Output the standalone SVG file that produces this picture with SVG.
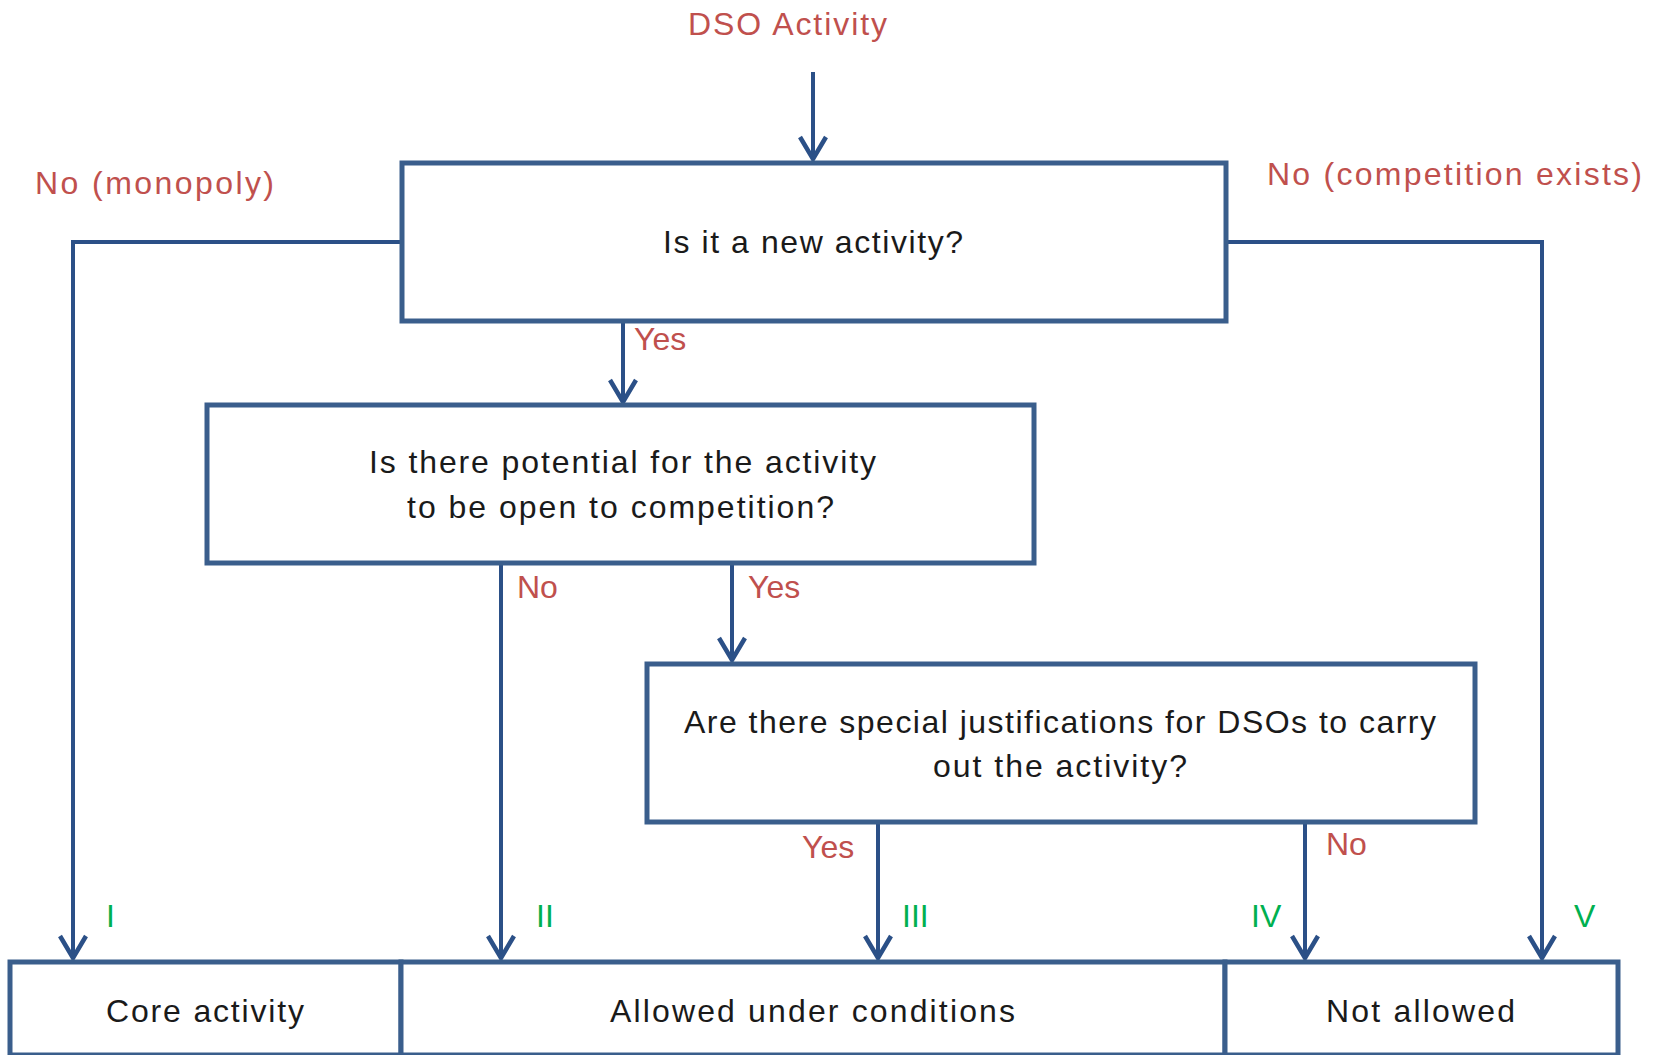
<svg xmlns="http://www.w3.org/2000/svg" width="1655" height="1055" viewBox="0 0 1655 1055">
<style>
.box{fill:#ffffff;stroke:#3A5E8C;stroke-width:5}
.con{fill:none;stroke:#2B5087;stroke-width:4}
text{font-family:"Liberation Sans",Arial,sans-serif;font-size:32px}
.t{fill:#1a1a1a}
.lbl{fill:#C0504D}
.num{fill:#00B050}
</style>
<defs>
<marker id="ah" markerUnits="userSpaceOnUse" viewBox="0 0 30 30" markerWidth="30" markerHeight="30" refX="26" refY="15" orient="auto">
<path d="M4,2 L26,15 L4,28" fill="none" stroke="#2B5087" stroke-width="4.5"/>
</marker>
</defs>
<rect width="1655" height="1055" fill="#ffffff"/>

<g id="connectors">
<path class="con" d="M813,72 V159" marker-end="url(#ah)"/>
<path class="con" d="M402,242 H73 V958" marker-end="url(#ah)"/>
<path class="con" d="M1226,242 H1542 V958" marker-end="url(#ah)"/>
<path class="con" d="M623,321 V402" marker-end="url(#ah)"/>
<path class="con" d="M501,563 V958" marker-end="url(#ah)"/>
<path class="con" d="M732,563 V660" marker-end="url(#ah)"/>
<path class="con" d="M878,822 V958" marker-end="url(#ah)"/>
<path class="con" d="M1305,822 V958" marker-end="url(#ah)"/>
</g>

<g id="start">
<text class="lbl" x="688" y="35" textLength="199" lengthAdjust="spacing">DSO Activity</text>
</g>

<g id="q1">
<rect class="box" x="402" y="163" width="824" height="158"/>
<text class="t" x="663" y="253" textLength="300" lengthAdjust="spacing">Is it a new activity?</text>
</g>

<g id="q2">
<rect class="box" x="207" y="405" width="827" height="158"/>
<text class="t" x="369" y="473" textLength="507" lengthAdjust="spacing">Is there potential for the activity</text>
<text class="t" x="407" y="518" textLength="427" lengthAdjust="spacing">to be open to competition?</text>
</g>

<g id="q3">
<rect class="box" x="647" y="664" width="828" height="158"/>
<text class="t" x="684" y="733" textLength="752" lengthAdjust="spacing">Are there special justifications for DSOs to carry</text>
<text class="t" x="933" y="777" textLength="254" lengthAdjust="spacing">out the activity?</text>
</g>

<g id="core">
<rect class="box" x="10" y="962" width="391" height="93"/>
<text class="t" x="106" y="1022" textLength="198" lengthAdjust="spacing">Core activity</text>
</g>

<g id="allowed">
<rect class="box" x="401" y="962" width="824" height="93"/>
<text class="t" x="610" y="1022" textLength="405" lengthAdjust="spacing">Allowed under conditions</text>
</g>

<g id="notallowed">
<rect class="box" x="1225" y="962" width="393" height="93"/>
<text class="t" x="1326" y="1022" textLength="189" lengthAdjust="spacing">Not allowed</text>
</g>

<g id="labels">
<text class="lbl" x="35" y="194" textLength="239" lengthAdjust="spacing">No (monopoly)</text>
<text class="lbl" x="1267" y="185" textLength="375" lengthAdjust="spacing">No (competition exists)</text>
<text class="lbl" x="634" y="350">Yes</text>
<text class="lbl" x="517" y="598">No</text>
<text class="lbl" x="748" y="598">Yes</text>
<text class="lbl" x="802" y="858">Yes</text>
<text class="lbl" x="1326" y="855">No</text>
<text class="num" x="106" y="927">I</text>
<text class="num" x="536" y="927">II</text>
<text class="num" x="902" y="927">III</text>
<text class="num" x="1251" y="927">IV</text>
<text class="num" x="1574" y="927">V</text>
</g>
</svg>
